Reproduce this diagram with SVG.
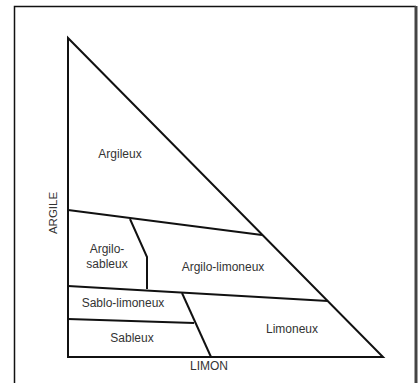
<svg xmlns="http://www.w3.org/2000/svg" width="418" height="383" viewBox="0 0 418 383">
<style>
.ln{fill:none;stroke:#111;stroke-width:2;stroke-linejoin:miter}
.t{font-family:"Liberation Sans",Arial,sans-serif;font-size:12px;fill:#333;text-anchor:middle}
</style>
<rect width="418" height="383" fill="#fff"/>
<g id="frame">
<path d="M14.5,383 V6.5 H416" fill="none" stroke="#111" stroke-width="1.5"/>
<path d="M416,6 V383" fill="none" stroke="#444" stroke-width="3"/>
</g>
<g id="connectors">
<path class="ln" d="M68,38 V357 H383 Z"/>
<path class="ln" d="M68,210 L262,235"/>
<path class="ln" d="M68,286 L328,301"/>
<path class="ln" d="M68,319 L194,323"/>
<path class="ln" d="M130,219 L147,257 V289"/>
<path class="ln" d="M182,293 L211,357"/>
</g>
<g id="argileux"><text class="t" x="120" y="158">Argileux</text></g>
<g id="argilo-sableux"><text class="t" x="107" y="253">Argilo-</text><text class="t" x="107" y="268">sableux</text></g>
<g id="argilo-limoneux"><text class="t" x="223" y="271">Argilo-limoneux</text></g>
<g id="sablo-limoneux"><text class="t" x="123" y="307">Sablo-limoneux</text></g>
<g id="sableux"><text class="t" x="132" y="342">Sableux</text></g>
<g id="limoneux"><text class="t" x="292" y="333">Limoneux</text></g>
<g id="axis-limon"><text class="t" x="209" y="370">LIMON</text></g>
<g id="axis-argile"><text class="t" transform="translate(57,213) rotate(-90)" style="font-size:11.5px">ARGILE</text></g>
</svg>
